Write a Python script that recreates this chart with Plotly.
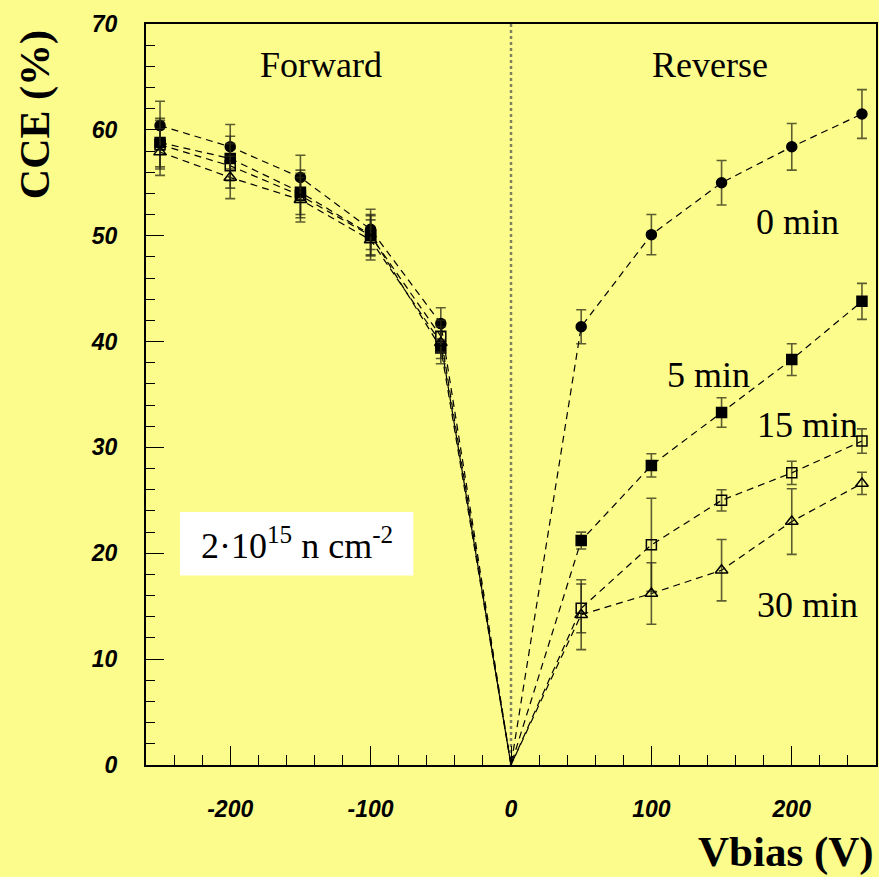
import plotly.graph_objects as go

# Bias voltages (V): forward side negative, reverse side positive
v_fwd = [-250, -200, -150, -100, -50]
v_rev = [50, 100, 150, 200, 250]

# Axis ticks
x_ticks = [-200, -100, 0, 100, 200]
x_ticklabels = ["-200", "-100", "0", "100", "200"]
y_ticks = [0, 10, 20, 30, 40, 50, 60, 70]

# Charge collection efficiency (%) and uncertainties per annealing time
cce_0min = [60.4, 58.4, 55.5, 50.6, 41.7, 41.4, 50.1, 55.0, 58.4, 61.5]
err_0min = [2.3, 2.1, 2.1, 1.9, 1.5, 1.6, 1.9, 2.1, 2.2, 2.3]

cce_5min = [58.8, 57.3, 54.1, 50.1, 39.4, 21.2, 28.3, 33.3, 38.3, 43.8]
err_5min = [2.3, 2.1, 2.1, 1.9, 1.5, 0.8, 1.1, 1.4, 1.5, 1.7]

cce_15min = [58.6, 56.6, 53.8, 50.0, 40.5, 14.8, 20.8, 25.0, 27.6, 30.6]
err_15min = [2.3, 2.1, 2.1, 1.9, 1.5, 2.3, 4.4, 1.0, 1.1, 1.15]

cce_30min = [57.9, 55.5, 53.4, 49.6, 39.9, 14.2, 16.2, 18.4, 23.0, 26.6]
err_30min = [2.2, 2.0, 2.1, 1.9, 1.5, 3.3, 2.9, 2.9, 3.1, 1.05]

# All curves pass through the origin (no bias, no signal)
origin_v = 0
origin_cce = 0

series = [
    ("0 min", cce_0min, err_0min, "circle", 10),
    ("5 min", cce_5min, err_5min, "square", 10),
    ("15 min", cce_15min, err_15min, "square-open", 10),
    ("30 min", cce_30min, err_30min, "triangle-up-open", 11),
]

v_all = v_fwd + v_rev
BG = "#fcfc8c"
ERRC = "rgba(40,40,20,0.75)"

fig = go.Figure()

# vertical dotted separator at 0 V
fig.add_shape(type="line", xref="x", yref="paper", x0=0, x1=0, y0=0, y1=1,
              line=dict(color="#808060", width=2.5, dash="dot"), layer="below")

for name, cce, err, sym, size in series:
    n = len(v_fwd)
    xl = v_fwd + [origin_v] + v_rev
    yl = cce[:n] + [origin_cce] + cce[n:]
    fig.add_trace(go.Scatter(
        x=xl, y=yl, mode="lines", showlegend=False, hoverinfo="skip",
        line=dict(color="black", width=1.2, dash="7px,5px"),
    ))

for name, cce, err, sym, size in series:
    fig.add_trace(go.Scatter(
        x=v_all, y=cce, mode="markers", name=name, showlegend=False,
        marker=dict(symbol=sym, size=size, color="black",
                    line=dict(color="black", width=1.5)),
        error_y=dict(type="data", array=err, visible=True,
                     color=ERRC, thickness=1.6, width=5),
    ))

serif = "Liberation Serif"
ann_font = dict(family=serif, size=36, color="black")
annotations = [
    dict(x=-135, y=66.1, text="Forward"),
    dict(x=142, y=66.1, text="Reverse"),
    dict(x=204, y=51.3, text="0 min"),
    dict(x=141, y=36.8, text="5 min"),
    dict(x=211, y=32.1, text="15 min"),
    dict(x=211, y=15.1, text="30 min"),
    dict(x=-152.7, y=20.9, text="2·10<sup>15</sup> n cm<sup>-2</sup>"),
]
for a in annotations:
    fig.add_annotation(xref="x", yref="y", showarrow=False, font=ann_font,
                       xanchor="center", yanchor="middle", **a)

# fluence label box
fig.add_shape(type="rect", xref="x", yref="y", x0=-235.8, x1=-69.6, y0=17.9, y1=23.9,
              fillcolor="white", line=dict(width=0), layer="below")

# axis titles
fig.add_annotation(xref="paper", yref="paper", x=1.0, y=-0.118, xanchor="right",
                   yanchor="middle", showarrow=False, text="<b>Vbias (V)</b>",
                   font=dict(family=serif, size=43, color="black"))
fig.add_annotation(xref="paper", yref="paper", x=-0.151, y=0.878, xanchor="center",
                   yanchor="middle", showarrow=False, text="<b>CCE (%)</b>", textangle=-90,
                   font=dict(family=serif, size=42, color="black"))

tickfont = dict(family="Liberation Sans", size=23, color="black", weight="bold", style="italic")

fig.update_layout(
    width=879, height=877,
    margin=dict(l=146, r=1, t=24, b=112),
    paper_bgcolor=BG, plot_bgcolor=BG,
    xaxis=dict(range=[-260, 260], tickvals=x_ticks, ticktext=x_ticklabels,
               ticks="inside", ticklen=19, tickwidth=1.2, tickcolor="black",
               minor=dict(dtick=20, tick0=0, ticks="inside", ticklen=10, tickwidth=1,
                          tickcolor="black", showgrid=False),
               showgrid=False, zeroline=False, showline=True, linecolor="black",
               linewidth=2, mirror=True, tickfont=tickfont, ticklabelstandoff=22),
    yaxis=dict(range=[0, 70], tickvals=y_ticks,
               ticks="inside", ticklen=18, tickwidth=1.2, tickcolor="black",
               minor=dict(dtick=2, tick0=0, ticks="inside", ticklen=9, tickwidth=1,
                          tickcolor="black", showgrid=False),
               showgrid=False, zeroline=False, showline=True, linecolor="black",
               linewidth=2, mirror=True, tickfont=tickfont, ticklabelstandoff=22),
)

fig.write_html("out.html")
